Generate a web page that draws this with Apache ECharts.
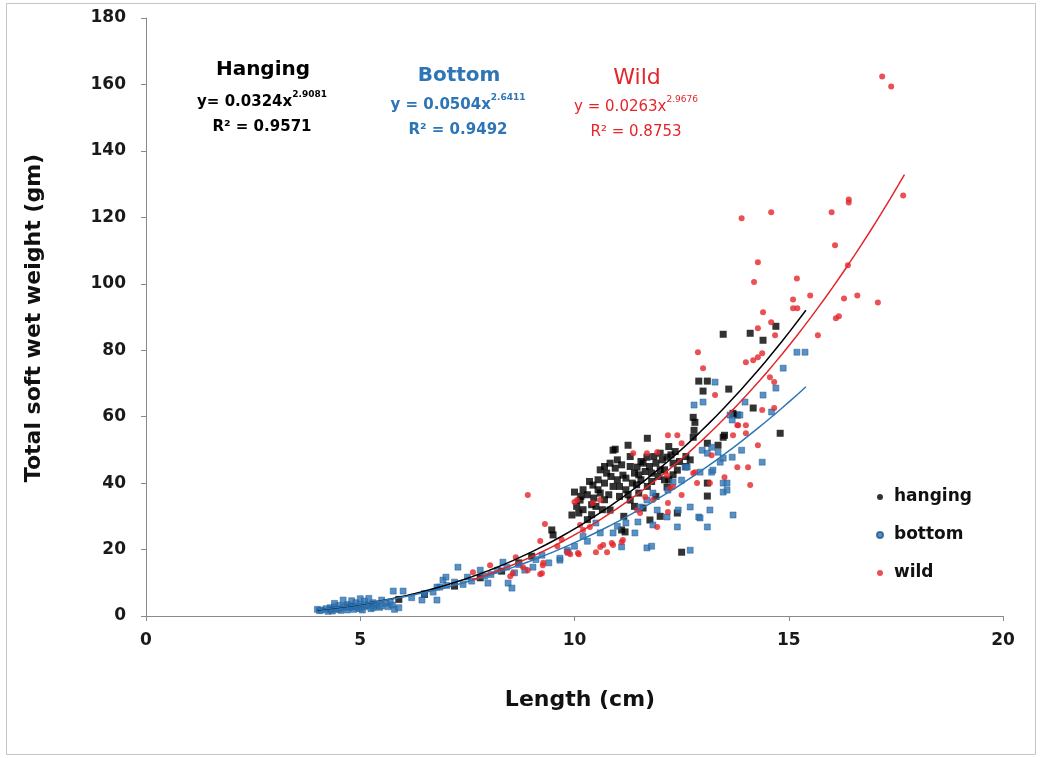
<!DOCTYPE html>
<html>
<head>
<meta charset="utf-8">
<script src="https://cdn.jsdelivr.net/npm/echarts@6/dist/echarts.min.js"></script>
<style>
html,body{margin:0;padding:0;background:#fff;}
#c{width:1040px;height:758px;}
</style>
</head>
<body>
<div id="c"></div>
<script>
// ---- data (length cm, weight gm) ----
const hangingData = [
[4.3,2],[4.8,3],[5.3,3.5],[5.9,5],[6.5,6.5],[7.2,9],[7.8,11.5],[8.3,13.5],[8.7,16],[9.0,18],
[9.47,25.9],[9.5,24.4],[9.94,30.4],[10.0,37.3],[10.13,34.9],[10.2,32],[10.3,36.5],[10.43,39.4],[10.5,33],[10.55,41],
[10.6,37],[10.7,35],[10.75,43],[10.83,46],[10.83,31.9],[10.9,49.9],[10.95,50.2],[10.9,39],[11.0,41],[11.05,36],
[11.1,25.9],[11.13,42.4],[11.18,25.3],[11.2,38],[11.25,51.4],[11.3,34.9],[11.3,45],[11.35,40],[11.4,43],[11.46,44.8],
[11.5,37],[11.55,41],[11.6,46],[11.69,47.8],[11.7,53.5],[11.7,39],[11.76,28.9],[11.8,43],[11.85,48],[11.9,36],
[12.0,49],[12.0,44],[12.1,41],[12.16,47.8],[12.16,38.8],[12.2,51],[12.3,46],[12.4,43.9],[12.4,31],[12.5,19.2],
[12.77,53.8],[12.77,59.8],[12.79,55.9],[12.81,58.3],[12.9,70.7],[13.0,67.7],[13.1,70.7],[13.1,52],[13.1,40],[13.1,36.1],
[13.35,51.4],[13.47,53.8],[13.47,84.8],[13.5,54.4],[13.6,68.3],[13.7,61],[13.8,60.5],[14.1,85.1],[14.17,62.6],[14.4,83],
[14.7,87.2],[14.8,55],[10.3,29],[10.6,44],[10.1,31],[10.4,30.5],[10.65,32],[11.0,47],[11.15,30],[11.4,33],
[11.6,32.5],[12.0,30],[12.2,41],[12.3,42.5],[12.6,48],[12.6,45],[12.7,47],
[10.2,38],[10.35,40.5],[10.45,35.5],[10.55,38],[10.7,40],[10.8,36.5],[10.85,42],[10.95,44.5],[11.05,39],[11.1,45.5],
[11.2,41.5],[11.25,36.5],[11.3,48],[11.45,39.5],[11.5,42.5],[11.55,46.5],[11.65,43.5],[11.75,45],[11.8,40.5],[11.9,46],
[11.95,42],[12.05,47],[12.1,44],[12.25,48.5],[12.35,49.5],[12.45,46.5],[10.15,36],[10.4,33.5],[10.05,33],[10.7,45]
];
const bottomData = [
[4.0,2],[4.05,1.6],[4.1,1.8],[4.2,2.2],[4.25,1.4],[4.3,2.5],[4.35,1.5],[4.4,2.8],[4.45,2.1],[4.5,2.0],
[4.5,3.2],[4.55,1.7],[4.6,2.5],[4.65,3.0],[4.7,3.5],[4.7,1.8],[4.75,2.6],[4.8,2.8],[4.8,4.6],[4.85,2.0],
[4.9,3.0],[4.9,4.0],[4.95,2.4],[5.0,2.2],[5.0,3.5],[5.0,5.2],[5.05,1.8],[5.1,4.5],[5.1,2.8],[5.15,3.3],
[5.2,3.2],[5.25,2.2],[5.3,4.0],[5.3,2.5],[5.35,3.0],[5.4,3.6],[5.45,2.6],[5.5,3.0],[5.5,4.8],[5.6,3.8],
[5.65,2.8],[5.7,4.2],[5.75,3.3],[5.8,2.0],[5.9,2.5],[4.6,4.8],[4.4,3.8],[5.2,5.3],
[5.77,7.5],[6.0,7.5],[6.2,5.5],[6.44,4.8],[6.79,4.8],[6.5,6.8],[6.7,7.2],[6.79,8.7],[6.86,8.7],[6.93,10.8],
[7.0,11.7],[7.02,9.2],[7.2,10.2],[7.28,14.7],[7.4,9.5],[7.5,11.7],[7.6,10.5],[7.8,13.8],[7.9,12],[7.98,9.9],
[8.05,12.5],[8.2,13.8],[8.33,16.2],[8.42,14.7],[8.45,9.9],[8.54,8.4],[8.6,13],[8.7,15.5],[8.84,13.8],[9.03,14.7],
[9.1,17],[9.24,18.3],[9.4,16],[9.66,16.8],[9.66,17.4],[9.83,19.8],[9.85,19.2],[10.0,21],
[10.3,22.5],[10.6,25],[10.9,25],[11.1,20.8],[11.2,28],[11.41,25],[11.48,28.3],[11.53,32.8],[11.69,34.9],[11.69,20.5],
[11.8,21],[11.83,37],[11.83,27.4],[11.93,31.9],[12.16,29.8],[12.18,37.9],[12.3,40.3],[12.4,26.8],[12.42,31.9],[12.5,40.9],
[12.58,44.8],[12.63,44.8],[12.7,32.8],[12.7,19.8],[12.79,63.5],[12.9,29.8],[12.93,29.5],[12.93,43.3],[12.98,49.9],[13.0,64.4],
[13.1,49],[13.1,26.8],[13.16,31.9],[13.2,43.3],[13.2,50.8],[13.23,43.9],[13.28,70.4],[13.35,49.3],[13.4,46.3],[13.47,47.5],
[13.47,40],[13.47,37.3],[13.56,40],[13.56,37.9],[13.63,60.5],[13.68,59],[13.68,47.8],[13.7,30.4],[13.86,60.5],[13.9,49.9],
[13.98,64.4],[14.4,66.5],[14.38,46.3],[14.6,61.4],[14.7,68.6],[14.87,74.6],[15.19,79.4],[15.38,79.4],[10.5,28],[10.2,24],[11.0,27]
];
const wildData = [
[7.63,13.2],[8.03,15.3],[8.5,12],[8.56,12.9],[8.63,17.7],[8.8,14.7],[8.91,13.8],[8.91,36.4],[9.2,22.6],[9.2,12.6],
[9.24,12.9],[9.26,15.3],[9.27,16],[9.31,27.7],[9.6,21],[9.7,23],[9.83,19.2],[9.9,18.6],[10.08,19],[10.1,18.6],
[10.0,34.3],[10.06,34.9],[10.13,27.4],[10.2,25.9],[10.36,26.8],[10.43,34],[10.5,19.2],[10.6,20.8],[10.6,34.9],[10.67,21.4],
[10.76,19.2],[10.87,22],[10.9,21.4],[11.1,22.3],[11.13,22.9],[11.37,49],[11.46,31.9],[11.53,31],[11.65,35.8],[11.69,49],
[11.83,34.9],[11.93,26.8],[11.93,49.3],[12.16,42.4],[12.18,34],[12.18,54.4],[12.18,31.3],[12.23,38.5],[12.3,38.8],[12.4,54.4],
[12.5,36.4],[12.5,52],[12.77,43],[12.81,43.3],[12.86,40],[12.88,79.4],[13.0,74.6],[13.16,40],[13.2,48.4],[13.28,66.5],
[13.5,41.8],[13.7,54.4],[13.8,57.4],[13.8,44.8],[13.82,57.4],[13.9,119.7],[14.0,57.4],[14.0,55],[14.0,76.4],[14.05,44.8],
[14.1,39.4],[14.17,77],[14.19,100.5],[14.28,106.5],[14.28,51.4],[14.28,77.9],[14.28,86.6],[14.38,79.1],[14.38,62],[14.4,91.4],
[14.56,71.9],[14.59,121.5],[14.59,88.4],[14.66,70.4],[14.66,62.6],[14.68,84.5],[15.1,95.3],[15.1,92.6],[15.19,101.6],[15.2,92.6],
[15.5,96.5],[15.68,84.5],[16.0,121.5],[16.08,111.6],[16.1,89.6],[16.17,90.2],[16.29,95.6],[16.38,105.6],[16.4,125.4],[16.4,124.5],
[16.6,96.5],[17.08,94.4],[17.18,162.4],[17.39,159.4],[17.67,126.6]
];
// power trend lines y = a * x^b  [a, b, xStart, xEnd]
const hangingFit = [0.0324, 2.9081, 4.0, 15.4];
const bottomFit  = [0.0504, 2.6411, 4.0, 15.4];
const wildFit    = [0.0263, 2.9676, 7.6, 17.7];
const seriesNames = ['hanging','bottom','wild'];
const xTicks = [0, 20, 5];
const yTicks = [0, 180, 20];

function fitLine(f){
  const pts=[]; const n=60;
  for(let i=0;i<=n;i++){ const x=f[2]+(f[3]-f[2])*i/n; pts.push([x, f[0]*Math.pow(x,f[1])]); }
  return pts;
}

const BLUE='#2e75b6', RED='#e3262b', BLACK='#000000';
const FONT='DejaVu Sans';
const chart = echarts.init(document.getElementById('c'), null, {renderer:'canvas'});

function eqText(x,y,color,weight,base,sup,r2){
  return [
    {type:'text', x:x, y:y, style:{
      text:'{m|'+base+'}{s|'+sup+'}',
      align:'center', verticalAlign:'middle',
      rich:{
        m:{fontFamily:FONT,fontSize:15,fontWeight:weight,fill:color,color:color,lineHeight:20,verticalAlign:'bottom'},
        s:{fontFamily:FONT,fontSize:9,fontWeight:weight,fill:color,color:color,lineHeight:20,verticalAlign:'top'}
      }
    }},
    {type:'text', x:x, y:y+27, style:{text:r2, fill:color, font: weight+' 15px '+FONT, align:'center', verticalAlign:'middle'}}
  ];
}

const option = {
  backgroundColor:'#fff',
  animation:false,
  grid:{left:146, top:18, width:857, height:598},
  xAxis:{type:'value', min:xTicks[0], max:xTicks[1], interval:xTicks[2],
    axisLine:{show:true, onZero:false, lineStyle:{color:'#8a8a8a', width:1}},
    axisTick:{show:true, length:5, lineStyle:{color:'#8a8a8a'}},
    axisLabel:{color:'#1a1a1a', fontFamily:FONT, fontWeight:'bold', fontSize:17, margin:16},
    splitLine:{show:false}},
  yAxis:{type:'value', min:yTicks[0], max:yTicks[1], interval:yTicks[2],
    axisLine:{show:true, onZero:false, lineStyle:{color:'#8a8a8a', width:1}},
    axisTick:{show:true, length:5, lineStyle:{color:'#8a8a8a'}},
    axisLabel:{color:'#1a1a1a', fontFamily:FONT, fontWeight:'bold', fontSize:17, margin:20},
    splitLine:{show:false}},
  legend:{data:seriesNames, orient:'vertical', left:871, top:482, itemWidth:18, itemHeight:6, itemGap:18,
    icon:'circle',
    textStyle:{fontFamily:FONT, fontWeight:'bold', fontSize:17, color:'#111', lineHeight:20}},
  graphic:[
    {type:'rect', shape:{x:6.5,y:3.5,width:1029,height:751}, style:{fill:'none', stroke:'#c4c4c4', lineWidth:1}, silent:true},
    {type:'text', x:34, y:318, rotation:Math.PI/2, style:{text:'Total soft wet weight (gm)', font:'bold 22px '+FONT, fill:'#111', align:'center', verticalAlign:'middle'}},
    {type:'text', x:580, y:700, style:{text:'Length (cm)', font:'bold 22px '+FONT, fill:'#111', align:'center', verticalAlign:'middle'}},
    {type:'text', x:263, y:70, style:{text:'Hanging', font:'bold 20px '+FONT, fill:BLACK, align:'center', verticalAlign:'middle'}},
    {type:'text', x:459, y:76, style:{text:'Bottom', font:'bold 20px '+FONT, fill:BLUE, align:'center', verticalAlign:'middle'}},
    {type:'text', x:637, y:78, style:{text:'Wild', font:'normal 22px '+FONT, fill:RED, align:'center', verticalAlign:'middle'}},
    ...eqText(262,100,BLACK,'bold','y= 0.0324x','2.9081','R\u00b2 = 0.9571'),
    ...eqText(458,103,BLUE,'bold','y = 0.0504x','2.6411','R\u00b2 = 0.9492'),
    ...eqText(636,105,RED,'normal','y = 0.0263x','2.9676','R\u00b2 = 0.8753')
  ],
  series:[
    {name:'hanging', type:'scatter', data:hangingData, symbol:'rect', symbolSize:7,
      itemStyle:{color:BLACK}},
    {name:'bottom', type:'scatter', data:bottomData, symbol:'rect', symbolSize:6,
      itemStyle:{color:BLUE, borderColor:'#1f5a8e', borderWidth:0.6}},
    {name:'wild', type:'scatter', data:wildData, symbol:'circle', symbolSize:6,
      itemStyle:{color:RED}},
    {name:'hanging fit', type:'line', data:fitLine(hangingFit), showSymbol:false, smooth:false,
      lineStyle:{color:BLACK, width:1.5}, z:5},
    {name:'bottom fit', type:'line', data:fitLine(bottomFit), showSymbol:false,
      lineStyle:{color:BLUE, width:1.5}, z:5},
    {name:'wild fit', type:'line', data:fitLine(wildFit), showSymbol:false,
      lineStyle:{color:RED, width:1.5}, z:5}
  ]
};
chart.setOption(option);
</script>
</body>
</html>
